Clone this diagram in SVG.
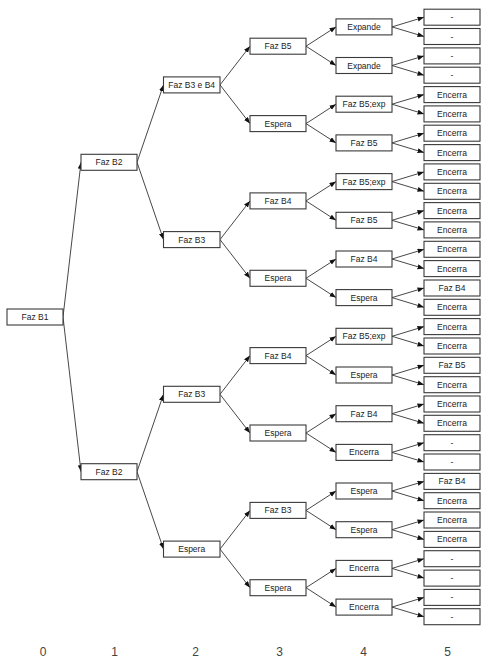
<svg xmlns="http://www.w3.org/2000/svg" width="487" height="668" viewBox="0 0 487 668">
<style>
.n rect{fill:#fff;stroke:#3a3a3a;stroke-width:1.1}
.n text{font-family:"Liberation Sans",Arial,sans-serif;font-size:8.5px;fill:#222;text-anchor:middle}
#edges line{stroke:#333;stroke-width:0.9;marker-end:url(#ah)}
.lvl{font-family:"Liberation Sans",Arial,sans-serif;font-size:12px;fill:#444;text-anchor:middle}
</style>
<defs>
<marker id="ah" markerUnits="userSpaceOnUse" markerWidth="7" markerHeight="6" refX="6.5" refY="2.5" orient="auto">
<path d="M0,0 L6.5,2.5 L0,5 z" fill="#111"/>
</marker>
</defs>
<rect width="487" height="668" fill="#fff"/>
<g id="edges">
<line x1="63" y1="317" x2="81" y2="162.3"/>
<line x1="63" y1="317" x2="81" y2="471.7"/>
<line x1="137" y1="162.3" x2="163.5" y2="84.9"/>
<line x1="137" y1="162.3" x2="163.5" y2="239.6"/>
<line x1="137" y1="471.7" x2="163.5" y2="394.3"/>
<line x1="137" y1="471.7" x2="163.5" y2="549.1"/>
<line x1="220" y1="84.9" x2="250" y2="46.2"/>
<line x1="220" y1="84.9" x2="250" y2="123.6"/>
<line x1="220" y1="239.6" x2="250" y2="200.9"/>
<line x1="220" y1="239.6" x2="250" y2="278.3"/>
<line x1="220" y1="394.3" x2="250" y2="355.6"/>
<line x1="220" y1="394.3" x2="250" y2="433"/>
<line x1="220" y1="549.1" x2="250" y2="510.4"/>
<line x1="220" y1="549.1" x2="250" y2="587.7"/>
<line x1="306" y1="46.2" x2="336" y2="26.9"/>
<line x1="306" y1="46.2" x2="336" y2="65.5"/>
<line x1="306" y1="123.6" x2="336" y2="104.2"/>
<line x1="306" y1="123.6" x2="336" y2="142.9"/>
<line x1="306" y1="200.9" x2="336" y2="181.6"/>
<line x1="306" y1="200.9" x2="336" y2="220.3"/>
<line x1="306" y1="278.3" x2="336" y2="259"/>
<line x1="306" y1="278.3" x2="336" y2="297.6"/>
<line x1="306" y1="355.6" x2="336" y2="336.3"/>
<line x1="306" y1="355.6" x2="336" y2="375"/>
<line x1="306" y1="433" x2="336" y2="413.7"/>
<line x1="306" y1="433" x2="336" y2="452.4"/>
<line x1="306" y1="510.4" x2="336" y2="491"/>
<line x1="306" y1="510.4" x2="336" y2="529.7"/>
<line x1="306" y1="587.7" x2="336" y2="568.4"/>
<line x1="306" y1="587.7" x2="336" y2="607.1"/>
<line x1="392" y1="26.9" x2="424" y2="17.2"/>
<line x1="392" y1="26.9" x2="424" y2="36.5"/>
<line x1="392" y1="65.5" x2="424" y2="55.9"/>
<line x1="392" y1="65.5" x2="424" y2="75.2"/>
<line x1="392" y1="104.2" x2="424" y2="94.6"/>
<line x1="392" y1="104.2" x2="424" y2="113.9"/>
<line x1="392" y1="142.9" x2="424" y2="133.2"/>
<line x1="392" y1="142.9" x2="424" y2="152.6"/>
<line x1="392" y1="181.6" x2="424" y2="171.9"/>
<line x1="392" y1="181.6" x2="424" y2="191.3"/>
<line x1="392" y1="220.3" x2="424" y2="210.6"/>
<line x1="392" y1="220.3" x2="424" y2="229.9"/>
<line x1="392" y1="259" x2="424" y2="249.3"/>
<line x1="392" y1="259" x2="424" y2="268.6"/>
<line x1="392" y1="297.6" x2="424" y2="288"/>
<line x1="392" y1="297.6" x2="424" y2="307.3"/>
<line x1="392" y1="336.3" x2="424" y2="326.6"/>
<line x1="392" y1="336.3" x2="424" y2="346"/>
<line x1="392" y1="375" x2="424" y2="365.3"/>
<line x1="392" y1="375" x2="424" y2="384.7"/>
<line x1="392" y1="413.7" x2="424" y2="404"/>
<line x1="392" y1="413.7" x2="424" y2="423.3"/>
<line x1="392" y1="452.4" x2="424" y2="442.7"/>
<line x1="392" y1="452.4" x2="424" y2="462"/>
<line x1="392" y1="491" x2="424" y2="481.4"/>
<line x1="392" y1="491" x2="424" y2="500.7"/>
<line x1="392" y1="529.7" x2="424" y2="520"/>
<line x1="392" y1="529.7" x2="424" y2="539.4"/>
<line x1="392" y1="568.4" x2="424" y2="558.7"/>
<line x1="392" y1="568.4" x2="424" y2="578.1"/>
<line x1="392" y1="607.1" x2="424" y2="597.4"/>
<line x1="392" y1="607.1" x2="424" y2="616.7"/>
</g>
<!-- level 0 -->
<g id="n0" class="n"><rect x="7" y="309" width="56" height="16"/><text x="35" y="320">Faz B1</text></g>
<!-- level 1 -->
<g id="n1a" class="n"><rect x="81" y="154.3" width="56" height="16"/><text x="109" y="165.3">Faz B2</text></g>
<g id="n1b" class="n"><rect x="81" y="463.7" width="56" height="16"/><text x="109" y="474.7">Faz B2</text></g>
<!-- level 2 -->
<g id="n2a" class="n"><rect x="163.5" y="76.9" width="56.5" height="16"/><text x="191.7" y="87.9">Faz B3 e B4</text></g>
<g id="n2b" class="n"><rect x="163.5" y="231.6" width="56.5" height="16"/><text x="191.7" y="242.6">Faz B3</text></g>
<g id="n2c" class="n"><rect x="163.5" y="386.3" width="56.5" height="16"/><text x="191.7" y="397.3">Faz B3</text></g>
<g id="n2d" class="n"><rect x="163.5" y="541.1" width="56.5" height="16"/><text x="191.7" y="552.1">Espera</text></g>
<!-- level 3 -->
<g id="n3a" class="n"><rect x="250" y="38.2" width="56" height="16"/><text x="278" y="49.2">Faz B5</text></g>
<g id="n3b" class="n"><rect x="250" y="115.6" width="56" height="16"/><text x="278" y="126.6">Espera</text></g>
<g id="n3c" class="n"><rect x="250" y="192.9" width="56" height="16"/><text x="278" y="203.9">Faz B4</text></g>
<g id="n3d" class="n"><rect x="250" y="270.3" width="56" height="16"/><text x="278" y="281.3">Espera</text></g>
<g id="n3e" class="n"><rect x="250" y="347.6" width="56" height="16"/><text x="278" y="358.6">Faz B4</text></g>
<g id="n3f" class="n"><rect x="250" y="425" width="56" height="16"/><text x="278" y="436">Espera</text></g>
<g id="n3g" class="n"><rect x="250" y="502.4" width="56" height="16"/><text x="278" y="513.4">Faz B3</text></g>
<g id="n3h" class="n"><rect x="250" y="579.7" width="56" height="16"/><text x="278" y="590.7">Espera</text></g>
<!-- level 4 -->
<g id="n4a" class="n"><rect x="336" y="18.9" width="56" height="16"/><text x="364" y="29.9">Expande</text></g>
<g id="n4b" class="n"><rect x="336" y="57.5" width="56" height="16"/><text x="364" y="68.5">Expande</text></g>
<g id="n4c" class="n"><rect x="336" y="96.2" width="56" height="16"/><text x="364" y="107.2">Faz B5;exp</text></g>
<g id="n4d" class="n"><rect x="336" y="134.9" width="56" height="16"/><text x="364" y="145.9">Faz B5</text></g>
<g id="n4e" class="n"><rect x="336" y="173.6" width="56" height="16"/><text x="364" y="184.6">Faz B5;exp</text></g>
<g id="n4f" class="n"><rect x="336" y="212.3" width="56" height="16"/><text x="364" y="223.3">Faz B5</text></g>
<g id="n4g" class="n"><rect x="336" y="251" width="56" height="16"/><text x="364" y="262">Faz B4</text></g>
<g id="n4h" class="n"><rect x="336" y="289.6" width="56" height="16"/><text x="364" y="300.6">Espera</text></g>
<g id="n4i" class="n"><rect x="336" y="328.3" width="56" height="16"/><text x="364" y="339.3">Faz B5;exp</text></g>
<g id="n4j" class="n"><rect x="336" y="367" width="56" height="16"/><text x="364" y="378">Espera</text></g>
<g id="n4k" class="n"><rect x="336" y="405.7" width="56" height="16"/><text x="364" y="416.7">Faz B4</text></g>
<g id="n4l" class="n"><rect x="336" y="444.4" width="56" height="16"/><text x="364" y="455.4">Encerra</text></g>
<g id="n4m" class="n"><rect x="336" y="483" width="56" height="16"/><text x="364" y="494">Espera</text></g>
<g id="n4n" class="n"><rect x="336" y="521.7" width="56" height="16"/><text x="364" y="532.7">Espera</text></g>
<g id="n4o" class="n"><rect x="336" y="560.4" width="56" height="16"/><text x="364" y="571.4">Encerra</text></g>
<g id="n4p" class="n"><rect x="336" y="599.1" width="56" height="16"/><text x="364" y="610.1">Encerra</text></g>
<!-- level 5 -->
<g id="n5_0" class="n"><rect x="424" y="9.2" width="56" height="16"/><text x="452" y="20.2">-</text></g>
<g id="n5_1" class="n"><rect x="424" y="28.5" width="56" height="16"/><text x="452" y="39.5">-</text></g>
<g id="n5_2" class="n"><rect x="424" y="47.9" width="56" height="16"/><text x="452" y="58.9">-</text></g>
<g id="n5_3" class="n"><rect x="424" y="67.2" width="56" height="16"/><text x="452" y="78.2">-</text></g>
<g id="n5_4" class="n"><rect x="424" y="86.6" width="56" height="16"/><text x="452" y="97.6">Encerra</text></g>
<g id="n5_5" class="n"><rect x="424" y="105.9" width="56" height="16"/><text x="452" y="116.9">Encerra</text></g>
<g id="n5_6" class="n"><rect x="424" y="125.2" width="56" height="16"/><text x="452" y="136.2">Encerra</text></g>
<g id="n5_7" class="n"><rect x="424" y="144.6" width="56" height="16"/><text x="452" y="155.6">Encerra</text></g>
<g id="n5_8" class="n"><rect x="424" y="163.9" width="56" height="16"/><text x="452" y="174.9">Encerra</text></g>
<g id="n5_9" class="n"><rect x="424" y="183.3" width="56" height="16"/><text x="452" y="194.3">Encerra</text></g>
<g id="n5_10" class="n"><rect x="424" y="202.6" width="56" height="16"/><text x="452" y="213.6">Encerra</text></g>
<g id="n5_11" class="n"><rect x="424" y="221.9" width="56" height="16"/><text x="452" y="232.9">Encerra</text></g>
<g id="n5_12" class="n"><rect x="424" y="241.3" width="56" height="16"/><text x="452" y="252.3">Encerra</text></g>
<g id="n5_13" class="n"><rect x="424" y="260.6" width="56" height="16"/><text x="452" y="271.6">Encerra</text></g>
<g id="n5_14" class="n"><rect x="424" y="280" width="56" height="16"/><text x="452" y="291">Faz B4</text></g>
<g id="n5_15" class="n"><rect x="424" y="299.3" width="56" height="16"/><text x="452" y="310.3">Encerra</text></g>
<g id="n5_16" class="n"><rect x="424" y="318.6" width="56" height="16"/><text x="452" y="329.6">Encerra</text></g>
<g id="n5_17" class="n"><rect x="424" y="338" width="56" height="16"/><text x="452" y="349">Encerra</text></g>
<g id="n5_18" class="n"><rect x="424" y="357.3" width="56" height="16"/><text x="452" y="368.3">Faz B5</text></g>
<g id="n5_19" class="n"><rect x="424" y="376.7" width="56" height="16"/><text x="452" y="387.7">Encerra</text></g>
<g id="n5_20" class="n"><rect x="424" y="396" width="56" height="16"/><text x="452" y="407">Encerra</text></g>
<g id="n5_21" class="n"><rect x="424" y="415.3" width="56" height="16"/><text x="452" y="426.3">Encerra</text></g>
<g id="n5_22" class="n"><rect x="424" y="434.7" width="56" height="16"/><text x="452" y="445.7">-</text></g>
<g id="n5_23" class="n"><rect x="424" y="454" width="56" height="16"/><text x="452" y="465">-</text></g>
<g id="n5_24" class="n"><rect x="424" y="473.4" width="56" height="16"/><text x="452" y="484.4">Faz B4</text></g>
<g id="n5_25" class="n"><rect x="424" y="492.7" width="56" height="16"/><text x="452" y="503.7">Encerra</text></g>
<g id="n5_26" class="n"><rect x="424" y="512" width="56" height="16"/><text x="452" y="523">Encerra</text></g>
<g id="n5_27" class="n"><rect x="424" y="531.4" width="56" height="16"/><text x="452" y="542.4">Encerra</text></g>
<g id="n5_28" class="n"><rect x="424" y="550.7" width="56" height="16"/><text x="452" y="561.7">-</text></g>
<g id="n5_29" class="n"><rect x="424" y="570.1" width="56" height="16"/><text x="452" y="581.1">-</text></g>
<g id="n5_30" class="n"><rect x="424" y="589.4" width="56" height="16"/><text x="452" y="600.4">-</text></g>
<g id="n5_31" class="n"><rect x="424" y="608.7" width="56" height="16"/><text x="452" y="619.7">-</text></g>
<!-- level labels -->
<g id="levels">
<text class="lvl" x="43" y="656">0</text>
<text class="lvl" x="114.5" y="656">1</text>
<text class="lvl" x="195.5" y="656">2</text>
<text class="lvl" x="279.5" y="656">3</text>
<text class="lvl" x="363.5" y="656">4</text>
<text class="lvl" x="447.5" y="656">5</text>
</g>
</svg>
